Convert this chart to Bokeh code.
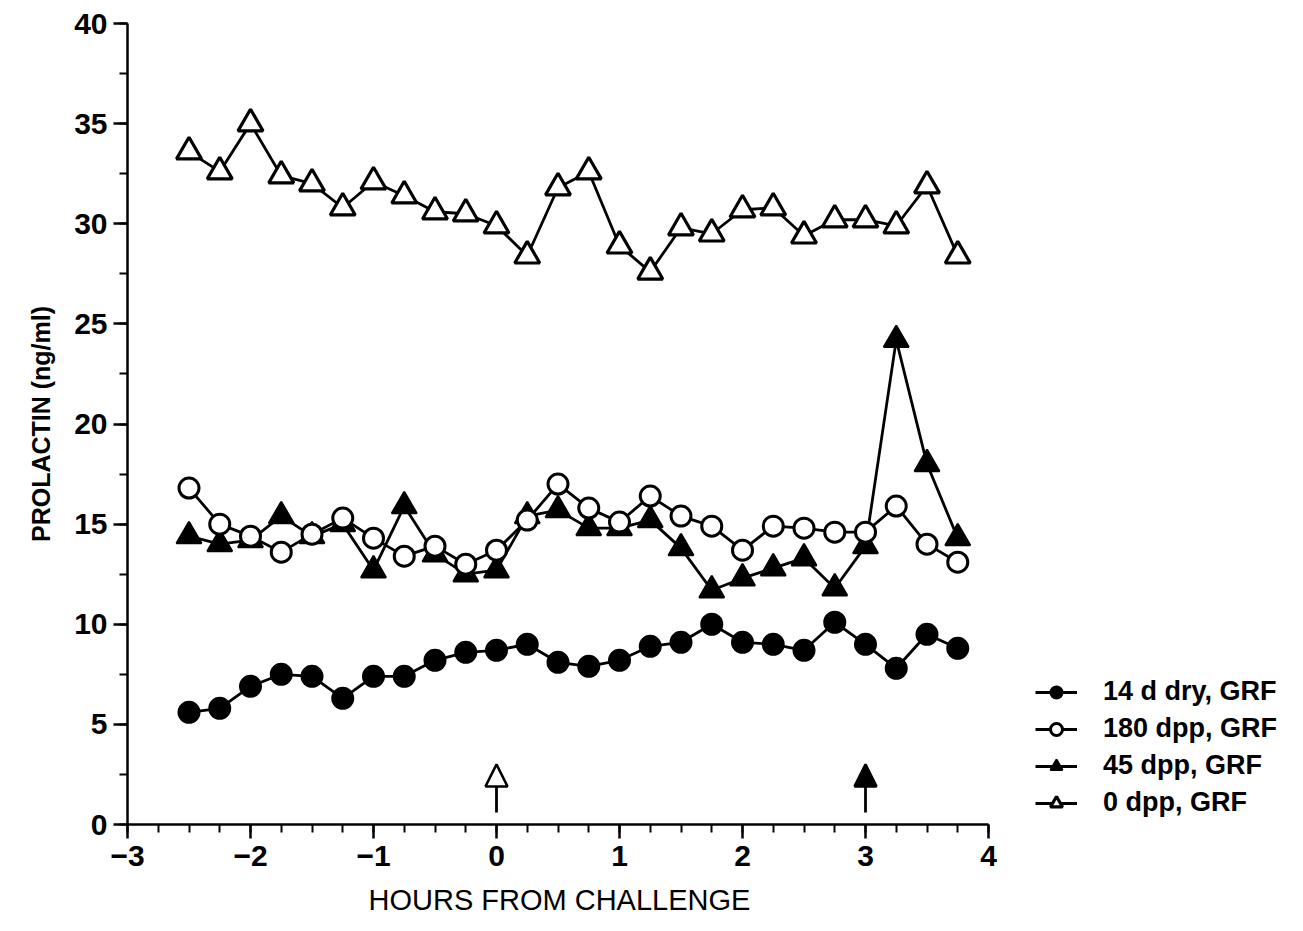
from bokeh.plotting import figure
from bokeh.models import (Range1d, SingleIntervalTicker, Legend, LegendItem, Arrow,
                          NormalHead, ColumnDataSource, Title)
from bokeh.embed import file_html
from bokeh.resources import INLINE

hours = [-2.5, -2.25, -2.0, -1.75, -1.5, -1.25, -1.0, -0.75, -0.5, -0.25, 0.0, 0.25, 0.5,
         0.75, 1.0, 1.25, 1.5, 1.75, 2.0, 2.25, 2.5, 2.75, 3.0, 3.25, 3.5, 3.75]

dry14 = [5.6, 5.8, 6.9, 7.5, 7.4, 6.3, 7.4, 7.4, 8.2, 8.6, 8.7, 9.0, 8.1,
         7.9, 8.2, 8.9, 9.1, 10.0, 9.1, 9.0, 8.7, 10.1, 9.0, 7.8, 9.5, 8.8]
dpp180 = [16.8, 15.0, 14.4, 13.6, 14.5, 15.3, 14.3, 13.4, 13.9, 13.0, 13.7, 15.2, 17.0,
          15.8, 15.1, 16.4, 15.4, 14.9, 13.7, 14.9, 14.8, 14.6, 14.6, 15.9, 14.0, 13.1]
dpp45 = [14.4, 14.0, 14.2, 15.4, 14.4, 15.0, 12.7, 15.9, 13.5, 12.5, 12.7, 15.4, 15.7,
         14.8, 14.8, 15.2, 13.8, 11.7, 12.3, 12.8, 13.3, 11.8, 13.9, 24.2, 18.0, 14.3]
dpp0 = [33.6, 32.6, 35.0, 32.4, 32.0, 30.8, 32.1, 31.4, 30.6, 30.5, 29.9, 28.4, 31.8,
        32.6, 28.9, 27.6, 29.8, 29.5, 30.7, 30.8, 29.4, 30.2, 30.2, 29.9, 31.9, 28.4]

labels = ["14 d dry, GRF", "180 dpp, GRF", "45 dpp, GRF", "0 dpp, GRF"]
challenge_times = [0, 3]
x_axis_span = (-3, 4)

FONT = "Liberation Sans"

W, H = 1300, 928
LEFT, TOP, BOTTOM = 127, 23, 102
PX_PER_HOUR = 123.0
x_end = x_axis_span[0] + (W - LEFT) / PX_PER_HOUR  # frame extends under the legend area

p = figure(width=W, height=H, x_range=Range1d(x_axis_span[0], x_end), y_range=Range1d(0, 40),
           output_backend="svg", toolbar_location=None,
           min_border_left=LEFT, min_border_right=0, min_border_top=TOP, min_border_bottom=BOTTOM)
p.outline_line_color = None
p.xgrid.visible = False
p.ygrid.visible = False
p.background_fill_color = "white"

src = ColumnDataSource(dict(x=hours, a=dry14, b=dpp180, c=dpp45, d=dpp0))

LW = 2.8
l1 = p.line("x", "a", source=src, line_color="black", line_width=LW)
m1 = p.scatter("x", "a", source=src, marker="circle", size=21, fill_color="black", line_color="black", line_width=2)
l3 = p.line("x", "c", source=src, line_color="black", line_width=LW)
m3 = p.scatter("x", "c", source=src, marker="triangle", size=25, fill_color="black", line_color="black", line_width=2)
l2 = p.line("x", "b", source=src, line_color="black", line_width=LW)
m2 = p.scatter("x", "b", source=src, marker="circle", size=20, fill_color="white", line_color="black", line_width=3)
l4 = p.line("x", "d", source=src, line_color="black", line_width=LW)
m4 = p.scatter("x", "d", source=src, marker="triangle", size=25, fill_color="white", line_color="black", line_width=3.2)

# challenge arrows
p.add_layout(Arrow(end=NormalHead(size=22, fill_color="white", line_color="black", line_width=2.5),
                   x_start=challenge_times[0], y_start=0.6, x_end=challenge_times[0], y_end=3.0,
                   line_color="black", line_width=2.8))
p.add_layout(Arrow(end=NormalHead(size=22, fill_color="black", line_color="black", line_width=2.5),
                   x_start=challenge_times[1], y_start=0.6, x_end=challenge_times[1], y_end=3.0,
                   line_color="black", line_width=2.8))

# axes
p.xaxis.ticker = SingleIntervalTicker(interval=1, num_minor_ticks=4)
p.xaxis.bounds = x_axis_span
p.yaxis.ticker = SingleIntervalTicker(interval=5, num_minor_ticks=2)
for ax in (p.xaxis[0], p.yaxis[0]):
    ax.axis_line_width = 2.5
    ax.axis_line_color = "black"
    ax.major_tick_line_width = 2.5
    ax.minor_tick_line_width = 2
    ax.major_tick_line_color = "black"
    ax.minor_tick_line_color = "black"
    ax.major_tick_in = 0
    ax.major_tick_out = 14
    ax.minor_tick_in = 0
    ax.minor_tick_out = 8
    ax.major_label_text_font = FONT
    ax.major_label_text_font_style = "bold"
    ax.major_label_text_font_size = "30px"
    ax.major_label_text_color = "black"
    ax.axis_label_text_color = "black"

p.xaxis.major_label_standoff = 7
p.yaxis.major_label_standoff = 6
p.yaxis.axis_label = "PROLACTIN (ng/ml)"
p.yaxis.axis_label_text_font = FONT
p.yaxis.axis_label_text_font_style = "bold"
p.yaxis.axis_label_text_font_size = "25px"
p.yaxis.axis_label_standoff = 16

# x-axis title, centred under the -3..4 axis
p.add_layout(Title(text="HOURS FROM CHALLENGE", align="left", offset=241,
                   text_font=FONT, text_font_style="normal", text_font_size="29px",
                   text_color="black", standoff=26), "below")

legend = Legend(items=[
    LegendItem(label=labels[0], renderers=[l1, m1]),
    LegendItem(label=labels[1], renderers=[l2, m2]),
    LegendItem(label=labels[2], renderers=[l3, m3]),
    LegendItem(label=labels[3], renderers=[l4, m4]),
], location=(908, 6))
legend.border_line_alpha = 0
legend.background_fill_alpha = 0
legend.padding = 0
legend.margin = 0
legend.spacing = 6
legend.glyph_width = 42
legend.glyph_height = 30
legend.label_height = 30
legend.label_standoff = 26
legend.label_text_font = FONT
legend.label_text_font_style = "bold"
legend.label_text_font_size = "27px"
legend.label_text_color = "black"
p.add_layout(legend)

open("out.html", "w").write(file_html(p, INLINE))
